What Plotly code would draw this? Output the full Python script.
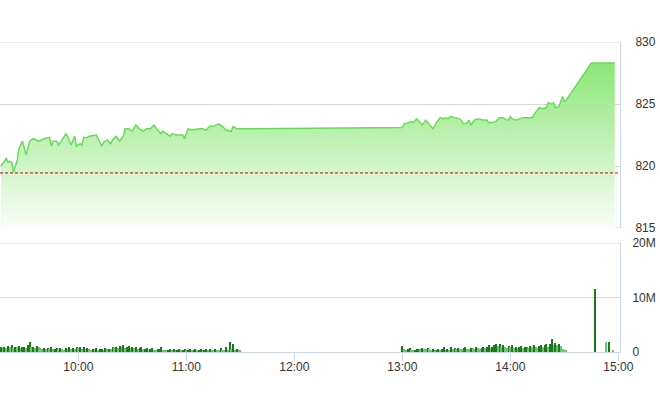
import plotly.graph_objects as go

DAY = "2024-01-01 "

# ---- price (index) series ----
price_times = [
    "09:17", "09:19", "09:20", "09:21", "09:22", "09:23", "09:24", "09:25", "09:26", "09:27",
    "09:29", "09:31", "09:33", "09:35", "09:38", "09:41", "09:44", "09:45", "09:46", "09:48",
    "09:49", "09:51", "09:53", "09:54", "09:56", "09:58", "09:59", "10:01", "10:02", "10:03",
    "10:05", "10:06", "10:10", "10:11", "10:13", "10:14", "10:16", "10:18", "10:19", "10:21",
    "10:23", "10:25", "10:26", "10:28", "10:30", "10:32", "10:34", "10:36", "10:38", "10:40",
    "10:42", "10:44", "10:46", "10:47", "10:49", "10:51", "10:52", "10:55", "10:58", "10:59",
    "11:01", "11:03", "11:07", "11:09", "11:11", "11:13", "11:15", "11:18", "11:20", "11:22",
    "11:25", "11:26", "11:28",
    "13:00", "13:01", "13:04", "13:05", "13:06", "13:08", "13:10", "13:11", "13:13", "13:15",
    "13:17", "13:19", "13:21", "13:23", "13:24", "13:25", "13:27", "13:29", "13:32", "13:34",
    "13:36", "13:37", "13:38", "13:40", "13:42", "13:45", "13:47", "13:48", "13:50", "13:52",
    "13:54", "13:56", "13:58", "13:59", "14:00", "14:01", "14:03", "14:05", "14:07", "14:09",
    "14:12", "14:14", "14:16", "14:18", "14:20", "14:21", "14:23", "14:24", "14:25", "14:27",
    "14:29", "14:30", "14:31", "14:45", "14:58",
]
price_values = [
    820.0, 820.4, 820.6, 820.3, 820.4, 820.3, 819.5, 820.0, 820.4, 821.4,
    822.0, 820.9, 822.0, 822.2, 822.0, 822.2, 822.3, 821.6, 822.0, 822.0,
    821.7, 822.1, 822.6, 822.4, 821.7, 822.4, 821.6, 821.8, 821.7, 822.3,
    822.3, 822.4, 822.5, 822.2, 821.6, 821.9, 822.1, 821.8, 822.1, 822.4,
    822.0, 822.4, 823.0, 823.0, 822.8, 823.3, 823.0, 822.8, 823.0, 823.0,
    823.3, 822.9, 822.6, 822.8, 822.6, 822.4, 822.6, 822.5, 822.5, 822.2,
    823.0, 822.9, 823.0, 823.0, 822.9, 823.2, 823.2, 823.4, 823.2, 822.9,
    822.8, 823.2, 823.0,
    823.1, 823.4, 823.5, 823.6, 823.5, 823.8, 823.5, 823.3, 823.7, 823.3,
    823.0, 823.5, 823.9, 823.8, 823.9, 823.8, 824.0, 823.9, 823.8, 823.4,
    823.5, 823.7, 823.3, 823.7, 823.8, 823.7, 823.7, 823.5, 823.5, 823.6,
    823.9, 823.9, 823.7, 823.7, 824.0, 823.8, 823.7, 823.8, 823.9, 823.9,
    823.9, 824.3, 824.7, 824.6, 824.7, 825.1, 825.0, 825.1, 824.7, 824.8,
    825.6, 825.2, 825.3, 828.3, 828.3,
]
reference_value = 819.44

# ---- volume series (millions) ----
vol_morning_start = "09:17"
vol_morning = [
    0.9, 0.7, 1.0, 0.8, 1.1, 0.9, 1.2, 0.8, 1.0, 0.9,
    1.1, 0.8, 0.9, 1.0, 0.7, 1.2, 1.9, 0.9, 1.0, 0.8,
    1.1, 0.9, 0.7, 0.6, 0.8, 0.5, 0.7, 0.6, 0.9, 0.5,
    0.6, 0.7, 0.5, 0.8, 0.6, 0.4, 0.7, 0.6, 0.9, 0.5,
    0.8, 0.6, 1.0, 0.7, 0.9, 0.6, 1.0, 0.5, 0.7, 0.6,
    0.4, 0.6, 0.5, 0.7, 0.4, 0.5, 0.6, 0.4, 0.8, 0.5,
    0.6, 0.5, 0.9, 0.7, 1.0, 0.8, 1.1, 0.9, 1.2, 0.8,
    1.0, 1.1, 0.7, 0.9, 0.8, 1.0, 0.6, 0.7, 0.9, 0.5,
    0.6, 0.8, 0.4, 0.5, 0.7, 0.4, 0.3, 0.5, 0.6, 0.9,
    0.4, 0.3, 0.2, 0.3, 0.5, 0.4, 0.6, 0.3, 0.4, 0.5,
    0.3, 0.4, 0.5, 0.3, 0.4, 0.6, 0.3, 0.4, 0.5, 0.3,
    0.4, 0.5, 0.3, 0.4, 0.6, 0.3, 0.5, 0.4, 0.3, 0.5,
    0.4, 0.3, 0.8, 0.4, 0.3, 1.0, 0.4, 1.8, 0.5, 1.5,
    0.4, 0.6, 0.3, 0.2,
]
vol_afternoon_start = "13:00"
vol_afternoon = [
    1.1, 0.5, 0.4, 0.6, 0.7, 0.3, 0.2, 0.4, 0.5, 0.6,
    0.5, 0.7, 0.6, 0.5, 0.8, 0.6, 0.4, 0.5, 0.3, 0.4,
    0.5, 0.4, 0.6, 0.9, 0.3, 0.5, 0.4, 1.0, 0.6, 0.7,
    0.5, 0.8, 0.6, 0.5, 0.7, 0.9, 0.6, 0.5, 0.8, 0.7,
    0.6, 0.9, 0.7, 0.5, 0.8, 1.0, 0.7, 0.9, 1.2, 0.8,
    1.0, 1.3, 1.5, 1.1, 1.4, 0.9, 1.2, 1.0, 0.8, 1.1,
    0.9, 1.2, 0.8, 1.0, 0.7, 0.9, 1.1, 0.8, 0.9, 1.0,
    0.8, 1.1, 0.9, 1.2, 1.0, 0.8, 1.1, 1.3, 0.9, 1.2,
    1.5, 1.0, 1.4, 2.4, 1.2, 1.6, 1.3, 1.4, 1.1, 0.6,
    0.3, 0.2,
]
vol_close_times = ["14:47", "14:53", "14:55", "14:57"]
vol_close = [11.6, 1.85, 1.85, 0.3]

x_range = [DAY + "09:16:30", DAY + "15:00:55"]
vol_ticks = [0, 10, 20]
vol_tick_text = ["0", "10M", "20M"]
price_ticks = [815, 820, 825, 830]


def minute_series(start, n):
    h, m = map(int, start.split(":"))
    out = []
    for i in range(n):
        t = h * 60 + m + i
        out.append(DAY + "%02d:%02d" % (t // 60, t % 60))
    return out


vol_x = (minute_series(vol_morning_start, len(vol_morning))
         + minute_series(vol_afternoon_start, len(vol_afternoon))
         + [DAY + t for t in vol_close_times])
vol_y = vol_morning + vol_afternoon + vol_close

DARK = "#1b7a1b"
LIGHT = "#6cc46c"
vol_colors = []
prev = None
for v in vol_y:
    vol_colors.append(DARK if (prev is None or v >= prev) else LIGHT)
    prev = v

fig = go.Figure()

fig.add_trace(go.Scatter(
    x=[DAY + t for t in price_times], y=price_values,
    mode="lines", line=dict(color="#68dc5a", width=1.5),
    fill="tozeroy",
    fillgradient=dict(type="vertical", start=815, stop=828.3,
                      colorscale=[[0, "rgb(249,254,248)"], [1, "rgb(140,230,120)"]]),
    xaxis="x", yaxis="y", hoverinfo="skip", showlegend=False,
))

fig.add_trace(go.Bar(
    x=vol_x, y=vol_y, marker=dict(color=vol_colors, line=dict(width=0)),
    width=34000, xaxis="x2", yaxis="y2", hoverinfo="skip", showlegend=False,
))

grid = "#d8d8d8"
axis_line = "#ccd6eb"

# edge grid lines (plotly drops gridlines lying on the plot edges)
for yref, yv in (("y", 830), ("y", 815), ("y2", 20)):
    fig.add_shape(type="line", xref="x domain", yref=yref, x0=0, x1=1,
                  y0=yv, y1=yv, line=dict(color=grid, width=1), layer="below")

fig.add_shape(type="line", xref="x domain", yref="y", x0=0, x1=1,
              y0=reference_value, y1=reference_value,
              line=dict(color="#c00000", width=1, dash="3px,2px"), layer="above")

font = dict(family="Liberation Sans Narrow, Liberation Sans, Arial", size=12, color="#333333")

fig.update_layout(
    width=660, height=412,
    margin=dict(l=0, r=40, t=42, b=60),
    paper_bgcolor="white", plot_bgcolor="white",
    font=font, bargap=0,
    xaxis=dict(domain=[0, 1], anchor="y", type="date", range=x_range,
               showticklabels=False, showgrid=False, zeroline=False, showline=False,
               matches="x2"),
    xaxis2=dict(domain=[0, 1], anchor="y2", type="date", range=x_range,
                tickformat="%H:%M", dtick=3600000, tick0=DAY + "10:00",
                ticks="outside", ticklen=8, tickcolor=axis_line, tickwidth=1,
                ticklabelstandoff=-4,
                showline=True, linecolor=axis_line, linewidth=1,
                showgrid=False, zeroline=False, tickfont=font),
    yaxis=dict(domain=[0.4, 1], anchor="x", range=[815, 830], side="right",
               tickvals=price_ticks, gridcolor=grid, gridwidth=1,
               showline=True, linecolor=axis_line, zeroline=False,
               ticks="", ticklabelstandoff=12, tickfont=font),
    yaxis2=dict(domain=[0, 0.3516], anchor="x2", range=[0, 20], side="right",
                tickvals=vol_ticks, ticktext=vol_tick_text, gridcolor=grid, gridwidth=1,
                showline=True, linecolor=axis_line, zeroline=False,
                ticks="", ticklabelstandoff=9, tickfont=font),
)

fig.write_html("out.html", config={"displayModeBar": False},
               post_script="document.body.style.margin='0';")
